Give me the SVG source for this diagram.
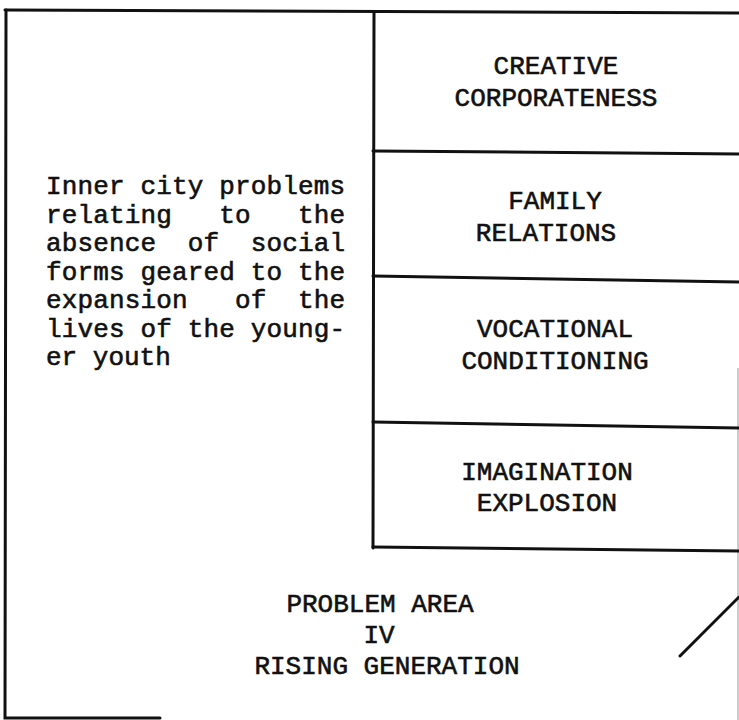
<svg xmlns="http://www.w3.org/2000/svg" width="739" height="720" viewBox="0 0 739 720">
  <style>
    .frame { fill: none; stroke: #111; stroke-width: 3; stroke-linecap: round; }
    .edge { fill: none; stroke: #999; stroke-width: 1; }
    .t { font-family: "Liberation Mono", "Courier New", monospace; font-size: 26px; fill: #111; stroke: #111; stroke-width: 0.6; }
    .c { text-anchor: middle; }
  </style>
  <rect width="739" height="720" fill="#fff"/>

  <!-- outer frame -->
  <g id="frame">
    <path class="frame" d="M5,10 L739,13"/>
    <path class="frame" d="M6,10 L5,718 L160,718"/>
    <path class="edge" d="M738,368 L738,552"/>
    <path class="edge" d="M738,552 L738,720" stroke="#444"/>
  </g>

  <!-- problem description column -->
  <g id="problem-text">
    <text class="t" x="46" y="194" xml:space="preserve" textLength="299">Inner city problems</text>
    <text class="t" x="46" y="222.5" xml:space="preserve" textLength="299">relating   to   the</text>
    <text class="t" x="46" y="251" xml:space="preserve" textLength="299">absence  of  social</text>
    <text class="t" x="46" y="279.5" xml:space="preserve" textLength="299">forms geared to the</text>
    <text class="t" x="46" y="308" xml:space="preserve" textLength="299">expansion   of  the</text>
    <text class="t" x="46" y="336.5" xml:space="preserve" textLength="299">lives of the young-</text>
    <text class="t" x="46" y="365" xml:space="preserve">er youth</text>
  </g>

  <!-- stacked categories -->
  <g id="divider">
    <path class="frame" d="M374,13 L373,548"/>
  </g>
  <g id="creative-corporateness">
    <path class="frame" d="M373,151 L739,154"/>
    <text class="t c" x="556" y="74">CREATIVE</text>
    <text class="t c" x="556" y="106">CORPORATENESS</text>
  </g>
  <g id="family-relations">
    <path class="frame" d="M373,276 L739,282"/>
    <text class="t c" x="555" y="209">FAMILY</text>
    <text class="t c" x="546" y="241">RELATIONS</text>
  </g>
  <g id="vocational-conditioning">
    <path class="frame" d="M373,422 L739,428"/>
    <text class="t c" x="555" y="337">VOCATIONAL</text>
    <text class="t c" x="555" y="369">CONDITIONING</text>
  </g>
  <g id="imagination-explosion">
    <path class="frame" d="M373,547 L739,551"/>
    <text class="t c" x="547" y="480">IMAGINATION</text>
    <text class="t c" x="547" y="511">EXPLOSION</text>
  </g>

  <!-- area title -->
  <g id="problem-area">
    <text class="t c" x="380" y="612">PROBLEM AREA</text>
    <text class="t c" x="379" y="643">IV</text>
    <text class="t c" x="387" y="674">RISING GENERATION</text>
  </g>

  <g id="connectors">
    <path class="frame" d="M680,656 L739,597"/>
  </g>
</svg>
